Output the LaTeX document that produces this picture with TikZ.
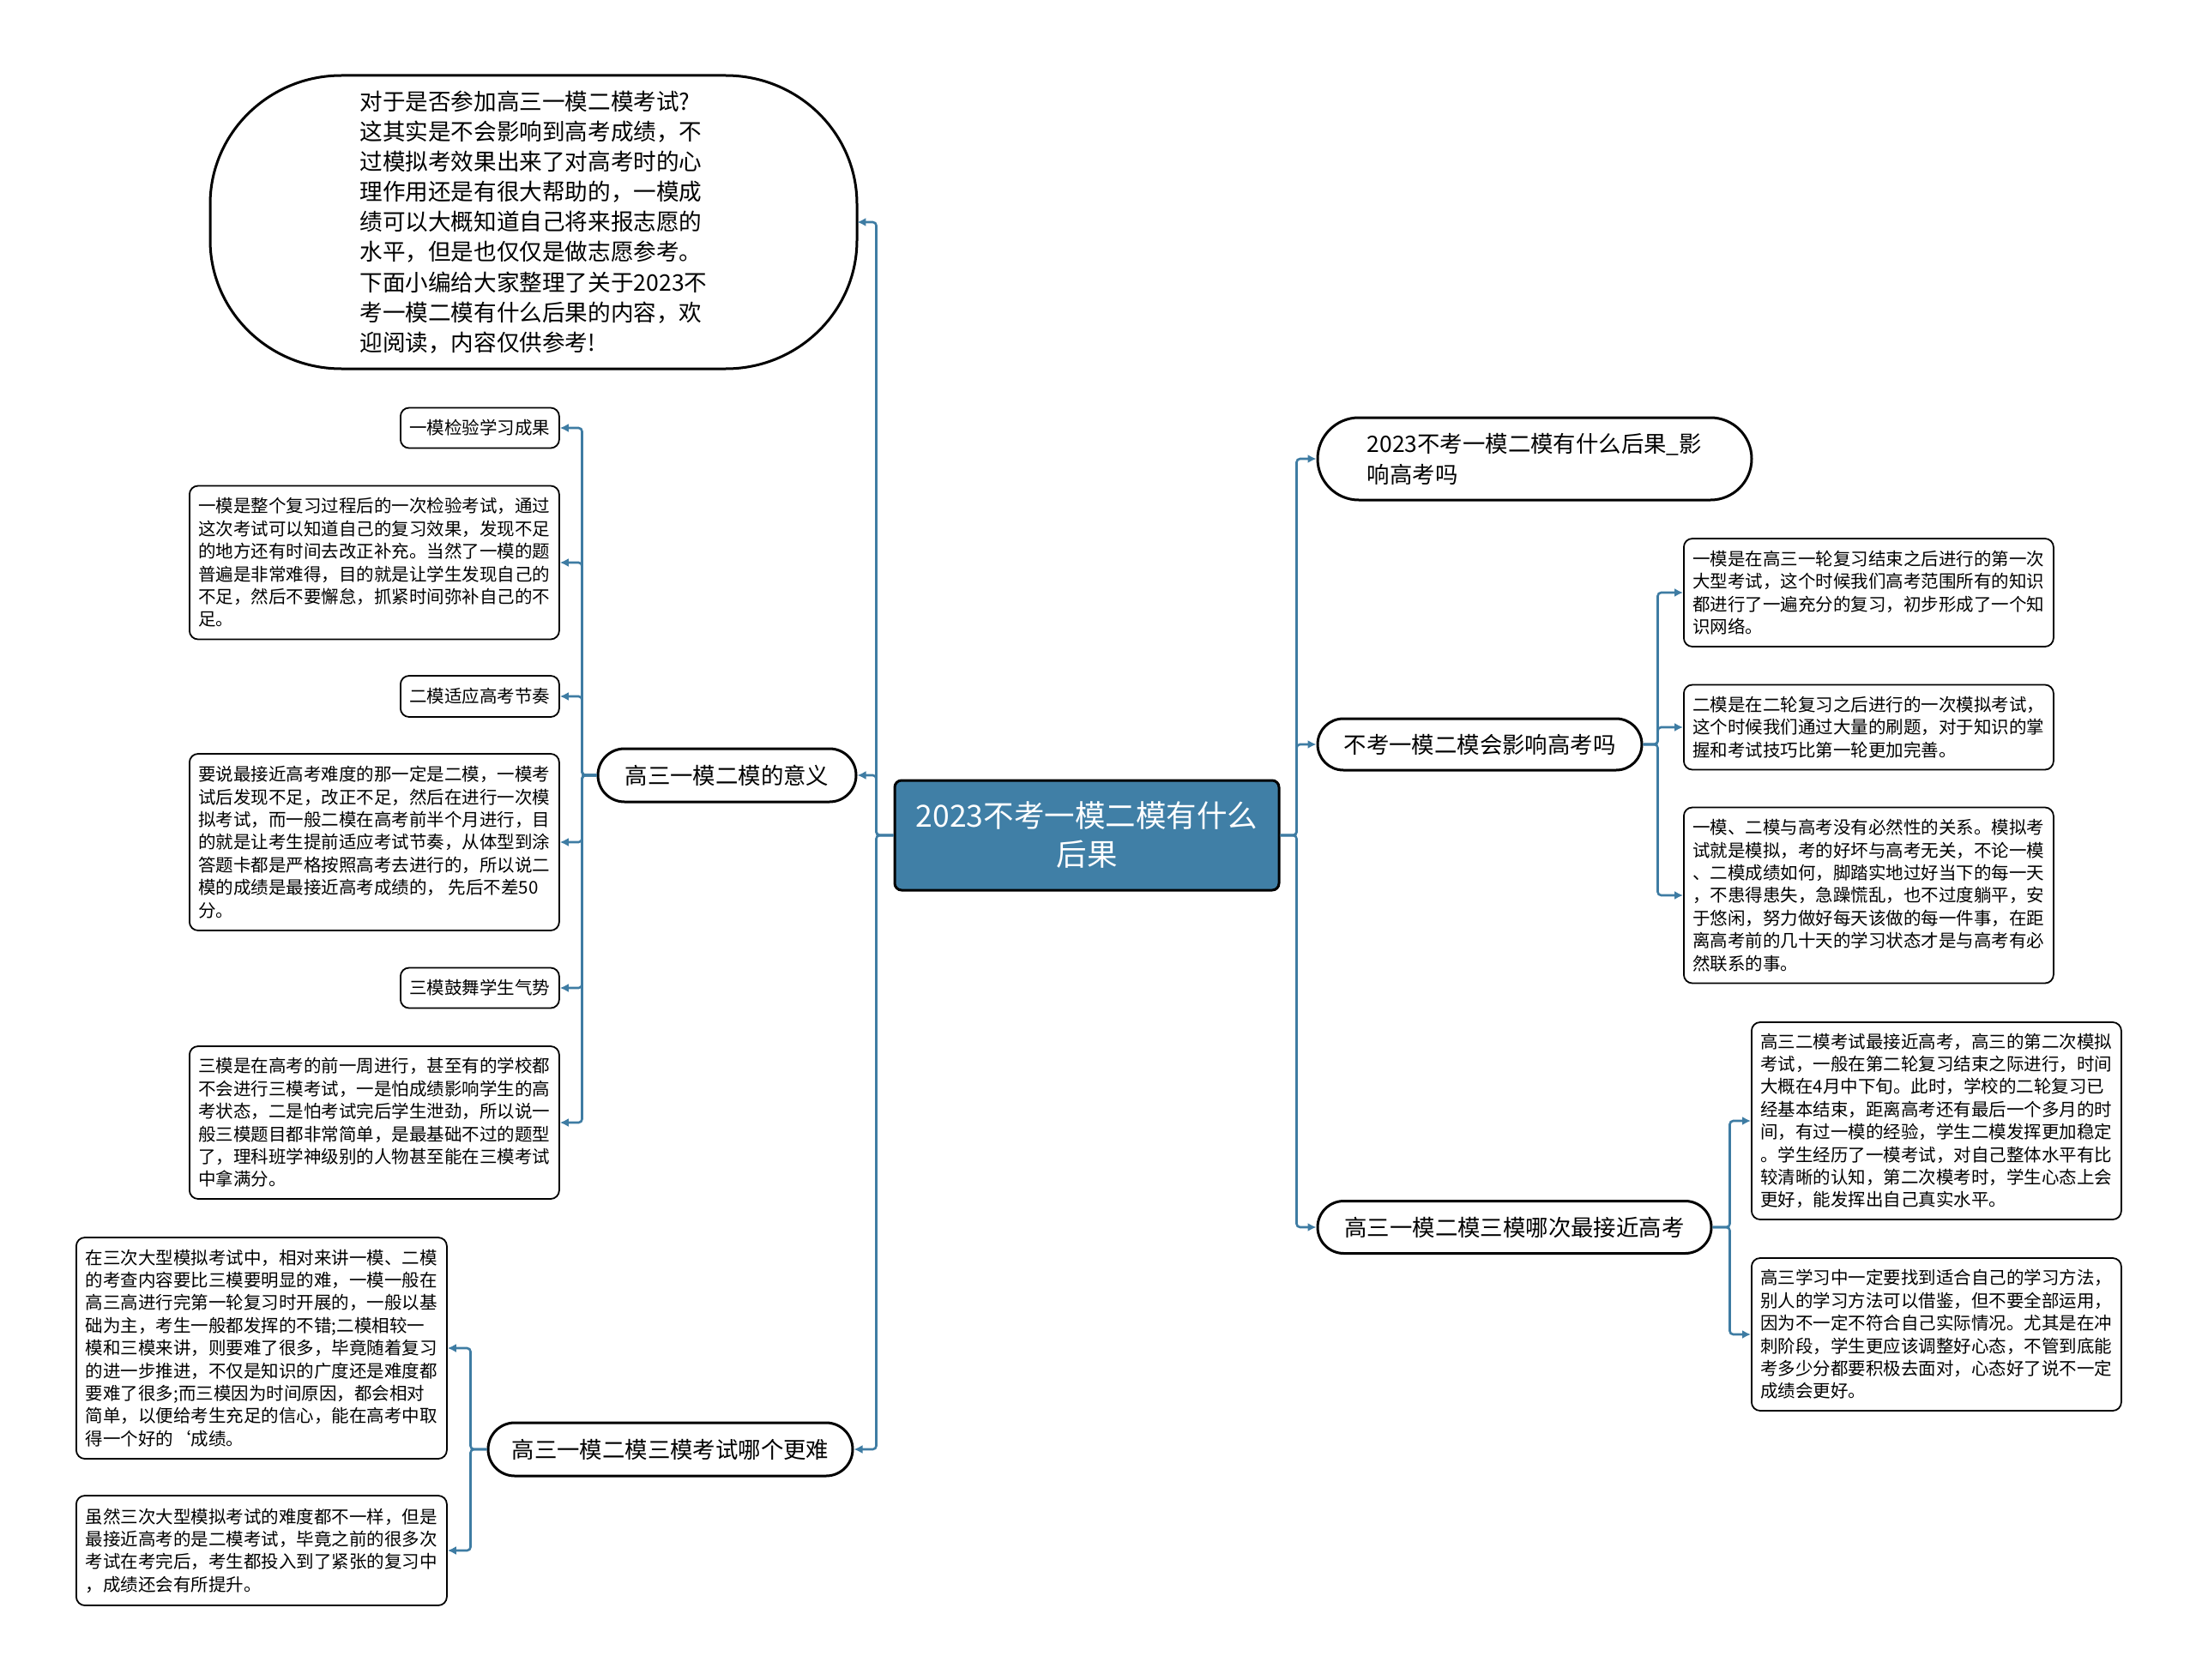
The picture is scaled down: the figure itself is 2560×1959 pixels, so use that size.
\documentclass[tikz,border=0pt]{standalone}
\usepackage{fontspec}
\setmainfont{Noto Sans CJK SC}
\usetikzlibrary{shapes.misc,arrows.meta}
\definecolor{linec}{RGB}{62,124,163}
\definecolor{centerc}{RGB}{64,127,166}
\begin{document}
\begin{tikzpicture}[x=0.5pt,y=-0.5pt,
  conn/.style={draw=linec, line width=1.3pt, -{Latex[length=5pt,width=5pt]}, rounded corners=2pt},
  leaf/.style={draw=black, line width=0.9pt, rounded corners=5pt, fill=white, align=left, inner sep=0pt, anchor=west, font=\fontsize{10.25pt}{13.2pt}\selectfont},
  topic/.style={draw=black, line width=1.5pt, rounded rectangle, fill=white, align=left, inner sep=0pt, font=\fontsize{13.2pt}{18pt}\selectfont},
  rootbox/.style={draw=black, line width=1.5pt, rounded corners=4pt, fill=centerc, text=white, align=center, inner sep=0pt, font=\fontsize{17.75pt}{22.5pt}\selectfont},
  introbox/.style={align=left, inner sep=0pt, font=\fontsize{13.3pt}{17.55pt}\selectfont}
]
\useasboundingbox[fill=white] (0,0) rectangle (2560,1959);

% root
\node[rootbox, minimum width=224pt, minimum height=64pt] (root) at (1267,974) {2023不考一模二模有什么\\后果};

% intro ellipse-like box
\node[introbox, minimum width=377pt, minimum height=171pt] (intro) at (622,259) {对于是否参加高三一模二模考试?\\这其实是不会影响到高考成绩，不\\过模拟考效果出来了对高考时的心\\理作用还是有很大帮助的，一模成\\绩可以大概知道自己将来报志愿的\\水平，但是也仅仅是做志愿参考。\\下面小编给大家整理了关于2023不\\考一模二模有什么后果的内容，欢\\迎阅读，内容仅供参考!};
\draw[line width=1.5pt] (398,88) -- (846,88) .. controls (930.5,88) and (999,155.2) .. (999,238) -- (999,280) .. controls (999,362.8) and (930.5,430) .. (846,430) -- (398,430) .. controls (313.5,430) and (245,362.8) .. (245,280) -- (245,238) .. controls (245,155.2) and (313.5,88) .. (398,88) -- cycle;

% left topics
\node[topic, minimum width=150.5pt, minimum height=31pt] (yiyi) at (847.5,904) {高三一模二模的意义};
\node[topic, minimum width=212.5pt, minimum height=31pt] (nange) at (781.5,1690) {高三一模二模三模考试哪个更难};

% leaves of yiyi
\node[leaf, minimum width=92.5pt, minimum height=23.5pt] (la) at (466,499) {一模检验学习成果};
\node[leaf, minimum width=215.5pt, minimum height=89.5pt] (lb) at (220,656) {一模是整个复习过程后的一次检验考试，通过\\这次考试可以知道自己的复习效果，发现不足\\的地方还有时间去改正补充。当然了一模的题\\普遍是非常难得，目的就是让学生发现自己的\\不足，然后不要懈怠，抓紧时间弥补自己的不\\足。};
\node[leaf, minimum width=92.5pt, minimum height=24pt] (lc) at (466,812) {二模适应高考节奏};
\node[leaf, minimum width=215.5pt, minimum height=103pt] (ld) at (220,982) {要说最接近高考难度的那一定是二模，一模考\\试后发现不足，改正不足，然后在进行一次模\\拟考试，而一般二模在高考前半个月进行，目\\的就是让考生提前适应考试节奏，从体型到涂\\答题卡都是严格按照高考去进行的，所以说二\\模的成绩是最接近高考成绩的， 先后不差50\\分。};
\node[leaf, minimum width=92.5pt, minimum height=23.5pt] (le) at (466,1152) {三模鼓舞学生气势};
\node[leaf, minimum width=215.5pt, minimum height=89pt] (lf) at (220,1309) {三模是在高考的前一周进行，甚至有的学校都\\不会进行三模考试，一是怕成绩影响学生的高\\考状态，二是怕考试完后学生泄劲，所以说一\\般三模题目都非常简单，是最基础不过的题型\\了，理科班学神级别的人物甚至能在三模考试\\中拿满分。};

% leaves of nange
\node[leaf, minimum width=216pt, minimum height=129pt] (lg) at (88,1572) {在三次大型模拟考试中，相对来讲一模、二模\\的考查内容要比三模要明显的难，一模一般在\\高三高进行完第一轮复习时开展的，一般以基\\础为主，考生一般都发挥的不错;二模相较一\\模和三模来讲，则要难了很多，毕竟随着复习\\的进一步推进，不仅是知识的广度还是难度都\\要难了很多;而三模因为时间原因，都会相对\\简单，以便给考生充足的信心，能在高考中取\\得一个好的\char96 成绩。};
\node[leaf, minimum width=216pt, minimum height=64pt] (lh) at (88,1808) {虽然三次大型模拟考试的难度都不一样，但是\\最接近高考的是二模考试，毕竟之前的很多次\\考试在考完后，考生都投入到了紧张的复习中\\，成绩还会有所提升。};

% right topics
\node[topic, minimum width=253pt, minimum height=48pt] (r1) at (1789,535) {2023不考一模二模有什么后果\_影\\响高考吗};
\node[topic, minimum width=189pt, minimum height=30pt] (r2) at (1725,868) {不考一模二模会影响高考吗};
\node[topic, minimum width=229.5pt, minimum height=30.5pt] (r3) at (1765.5,1431) {高三一模二模三模哪次最接近高考};

% leaves of r2
\node[leaf, minimum width=215.5pt, minimum height=63pt] (ra) at (1962,691) {一模是在高三一轮复习结束之后进行的第一次\\大型考试，这个时候我们高考范围所有的知识\\都进行了一遍充分的复习，初步形成了一个知\\识网络。};
\node[leaf, minimum width=215.5pt, minimum height=49.5pt] (rb) at (1962,848) {二模是在二轮复习之后进行的一次模拟考试，\\这个时候我们通过大量的刷题，对于知识的掌\\握和考试技巧比第一轮更加完善。};
\node[leaf, minimum width=215.5pt, minimum height=102.5pt] (rc) at (1962,1044) {一模、二模与高考没有必然性的关系。模拟考\\试就是模拟，考的好坏与高考无关，不论一模\\、二模成绩如何，脚踏实地过好当下的每一天\\，不患得患失，急躁慌乱，也不过度躺平，安\\于悠闲，努力做好每天该做的每一件事，在距\\离高考前的几十天的学习状态才是与高考有必\\然联系的事。};

% leaves of r3
\node[leaf, minimum width=215.5pt, minimum height=115pt] (rd) at (2041,1307) {高三二模考试最接近高考，高三的第二次模拟\\考试，一般在第二轮复习结束之际进行，时间\\大概在4月中下旬。此时，学校的二轮复习已\\经基本结束，距离高考还有最后一个多月的时\\间，有过一模的经验，学生二模发挥更加稳定\\。学生经历了一模考试，对自己整体水平有比\\较清晰的认知，第二次模考时，学生心态上会\\更好，能发挥出自己真实水平。};
\node[leaf, minimum width=215.5pt, minimum height=89pt] (re) at (2041,1556) {高三学习中一定要找到适合自己的学习方法，\\别人的学习方法可以借鉴，但不要全部运用，\\因为不一定不符合自己实际情况。尤其是在冲\\刺阶段，学生更应该调整好心态，不管到底能\\考多少分都要积极去面对，心态好了说不一定\\成绩会更好。};

% connectors
\draw[conn] (root.west) -- ++(-20,0) |- (intro.east);
\draw[conn] (root.west) -- ++(-20,0) |- (yiyi.east);
\draw[conn] (root.west) -- ++(-20,0) |- (nange.east);
\draw[conn] (root.east) -- ++(19,0) |- (r1.west);
\draw[conn] (root.east) -- ++(19,0) |- (r2.west);
\draw[conn] (root.east) -- ++(19,0) |- (r3.west);

\foreach \t in {la,lb,lc,ld,le,lf}
  \draw[conn] (yiyi.west) -- ++(-17,0) |- (\t.east);
\foreach \t in {lg,lh}
  \draw[conn] (nange.west) -- ++(-19,0) |- (\t.east);
\foreach \t in {ra,rb,rc}
  \draw[conn] (r2.east) -- ++(17,0) |- (\t.west);
\foreach \t in {rd,re}
  \draw[conn] (r3.east) -- ++(20,0) |- (\t.west);
\end{tikzpicture}
\end{document}
